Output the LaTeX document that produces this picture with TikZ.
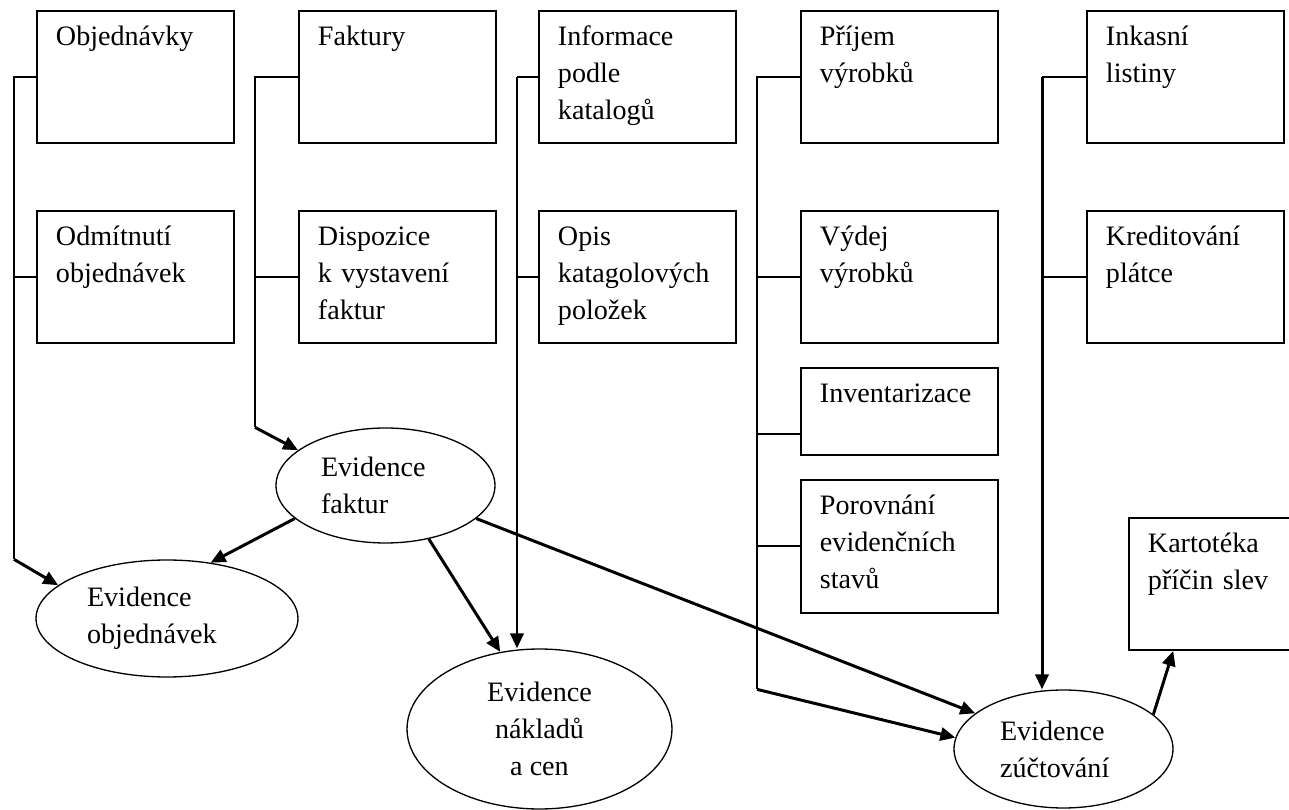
\documentclass[tikz,border=0pt]{standalone}
\usepackage{fontspec}
\setmainfont{Liberation Serif}
\usetikzlibrary{arrows.meta,positioning,shapes.geometric}
\begin{document}
\begin{tikzpicture}[x=0.02cm, y=-0.02cm, node distance=1.32cm,
  every node/.style={font=\fontsize{16pt}{21pt}\selectfont},
  box/.style={draw, line width=1.1pt, anchor=north west, align=left, text width=3.18cm, inner xsep=.38cm, inner ysep=0pt, text height=.7cm, text depth=1.94cm},
  ell/.style={draw, ellipse, line width=.75pt, inner sep=0pt, align=left},
  bus/.style={line width=1pt},
  arr/.style={line width=1.7pt, -{Triangle[length=8.5pt,width=7.5pt]}}]
\useasboundingbox (0,0) rectangle (1289,810);
\clip (0,0) rectangle (1289,810);
\node (obj) [box] at (36,10) {Objednávky};
\node (odm) [box, below=of obj] {Odmítnutí\\ objednávek};
\node (fak) [box] at (298,10) {Faktury};
\node (disp) [box, below=of fak] {Dispozice\\ k~vystavení\\ faktur};
\node (inf) [box] at (538,10) {Informace\\ podle\\ katalogů};
\node (opis) [box, below=of inf] {Opis\\ katagolových\\ položek};
\node (prij) [box] at (800,10) {Příjem\\ výrobků};
\node (vyd) [box, below=of prij] {Výdej\\ výrobků};
\node (inv) [box, text depth=1.04cm, below=0.46cm of vyd] {Inventarizace};
\node (por) [box, text depth=1.96cm, below=0.46cm of inv] {Porovnání\\ evidenčních\\ stavů};
\node (ink) [box] at (1086,10) {Inkasní\\ listiny};
\node (kred) [box, below=of ink] {Kreditování\\ plátce};
\node (kart) [box] at (1128,517) {Kartotéka\\ příčin slev};
\node (efak) [ell, text width=2.58cm, minimum width=4.38cm, minimum height=2.3cm] at (385.5,485.5) {Evidence\\ faktur};
\node (eobj) [ell, text width=3.2cm, minimum width=5.24cm, minimum height=2.34cm] at (167,618.5) {Evidence\\ objednávek};
\node (enakl) [ell, align=center, minimum width=5.3cm, minimum height=3.2cm] at (539.5,729) {Evidence\\ nákladů\\ a cen};
\node (ezuc) [ell, text width=2.54cm, minimum width=4.38cm, minimum height=2.36cm] at (1063.5,749) {Evidence\\ zúčtování};
\draw[bus] (obj.west) -- ++(-22,0) coordinate (b1) -- (b1 |- eobj.north) coordinate (b1e);
\draw[bus] (odm.west) -- (odm.west -| b1);
\draw[arr] (b1e) -- (eobj.163);
\draw[bus] (fak.west) -- ++(-43,0) coordinate (b2) -- (b2 |- efak.north) coordinate (b2e);
\draw[bus] (disp.west) -- (disp.west -| b2);
\draw[arr] (b2e) -- (efak.158);
\draw[bus] (inf.west) -- ++(-21,0) coordinate (b3);
\draw[bus] (opis.west) -- (opis.west -| b3);
\draw[arr] (b3) -- (b3 |- enakl.north);
\draw[bus] (prij.west) -- ++(-43,0) coordinate (b4) -- (b4 |- ezuc.north) coordinate (b4e);
\draw[bus] (vyd.west) -- (vyd.west -| b4);
\draw[bus] (inv.193) -- (inv.193 -| b4);
\draw[bus] (por.west) -- (por.west -| b4);
\draw[arr] (b4e) -- (ezuc.174);
\draw[bus] (ink.west) -- ++(-44,0) coordinate (b5);
\draw[bus] (kred.west) -- (kred.west -| b5);
\draw[arr] (b5) -- (b5 |- ezuc.north);
\draw[arr] (efak.200) -- (eobj.52);
\draw[arr] (efak.309) -- (enakl.117);
\draw[arr] (efak.340) -- (ezuc.158);
\draw[arr] (ezuc.21) -- (kart.231);
\end{tikzpicture}
\end{document}
